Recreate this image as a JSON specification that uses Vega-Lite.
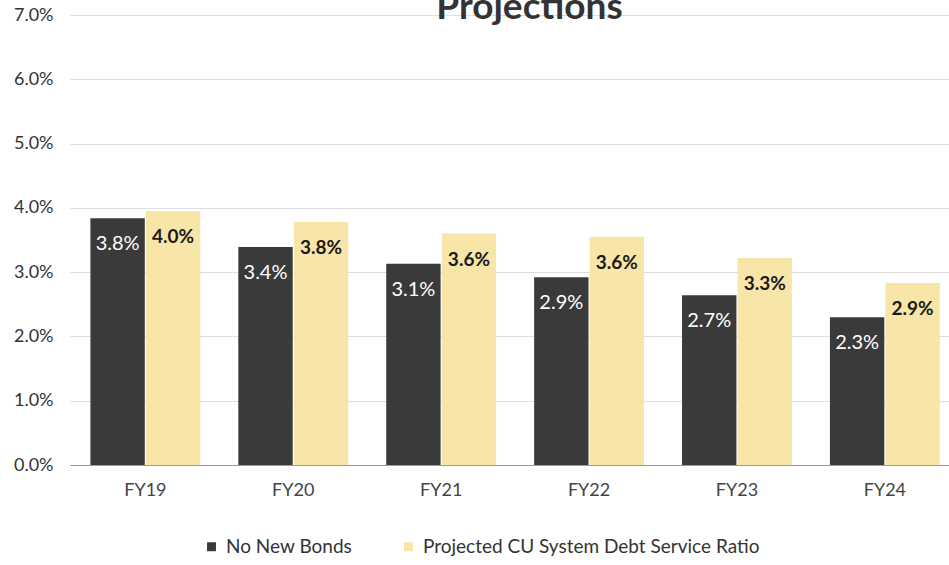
{
  "$schema": "https://vega.github.io/schema/vega-lite/v6.json",
  "autosize": "none",
  "width": 879,
  "height": 450,
  "padding": {"left": 70, "top": 15, "right": 0, "bottom": 100},
  "background": "white",
  "config": {"font": "Lato", "view": {"stroke": null}},
  "title": {"text": "Projections", "fontSize": 37, "fontWeight": "bold", "color": "#333", "anchor": "middle", "baseline": "alphabetic", "offset": -50, "dx": 20, "font": "Lato"},
  "data": {"values": [
    {"year": "FY19", "series": "No New Bonds", "value": 3.84, "label": "3.8%"},
    {"year": "FY19", "series": "Projected CU System Debt Service Ratio", "value": 3.95, "label": "4.0%"},
    {"year": "FY20", "series": "No New Bonds", "value": 3.39, "label": "3.4%"},
    {"year": "FY20", "series": "Projected CU System Debt Service Ratio", "value": 3.78, "label": "3.8%"},
    {"year": "FY21", "series": "No New Bonds", "value": 3.13, "label": "3.1%"},
    {"year": "FY21", "series": "Projected CU System Debt Service Ratio", "value": 3.60, "label": "3.6%"},
    {"year": "FY22", "series": "No New Bonds", "value": 2.92, "label": "2.9%"},
    {"year": "FY22", "series": "Projected CU System Debt Service Ratio", "value": 3.55, "label": "3.6%"},
    {"year": "FY23", "series": "No New Bonds", "value": 2.64, "label": "2.7%"},
    {"year": "FY23", "series": "Projected CU System Debt Service Ratio", "value": 3.22, "label": "3.3%"},
    {"year": "FY24", "series": "No New Bonds", "value": 2.30, "label": "2.3%"},
    {"year": "FY24", "series": "Projected CU System Debt Service Ratio", "value": 2.83, "label": "2.9%"}
  ]},
  "encoding": {
    "x": {"field": "year", "type": "nominal", "scale": {"paddingInner": 0.257, "paddingOuter": 0.1, "align": 0.69},
      "axis": {"title": null, "labelAngle": 0, "labelFontSize": 18, "labelColor": "#444", "ticks": false, "domainColor": "#999", "labelPadding": 16}},
    "xOffset": {"field": "series", "type": "nominal", "scale": {"domain": ["No New Bonds", "Projected CU System Debt Service Ratio"], "paddingInner": 0.02}},
    "y": {"field": "value", "type": "quantitative", "scale": {"domain": [0, 7]},
      "axis": {"title": null, "values": [0,1,2,3,4,5,6,7], "labelOverlap": false, "labelExpr": "format(datum.value, '.1f') + '%'", "labelFontSize": 18, "labelColor": "#333", "ticks": false, "domain": false, "gridColor": "#dedede", "labelPadding": 17}}
  },
  "layer": [
    {"mark": {"type": "bar"},
     "encoding": {"color": {"field": "series", "type": "nominal",
       "scale": {"domain": ["No New Bonds", "Projected CU System Debt Service Ratio"], "range": ["#3a3a3a", "#f8e5a8"]},
       "legend": {"title": null, "orient": "none", "direction": "horizontal", "legendX": 132, "legendY": 522, "symbolType": "square", "symbolSize": 80, "labelOffset": 5, "labelFontSize": 19, "labelColor": "#333", "labelLimit": 500, "columnPadding": 46, "symbolStrokeWidth": 0}}}},
    {"transform": [{"filter": "datum.series === 'No New Bonds'"}],
     "mark": {"type": "text", "baseline": "middle", "dy": 26, "fontSize": 20, "color": "white"},
     "encoding": {"text": {"field": "label"}}},
    {"transform": [{"filter": "datum.series !== 'No New Bonds'"}],
     "mark": {"type": "text", "baseline": "middle", "dy": 26, "fontSize": 19, "fontWeight": "bold", "color": "#1a1a1a"},
     "encoding": {"text": {"field": "label"}}}
  ]
}
